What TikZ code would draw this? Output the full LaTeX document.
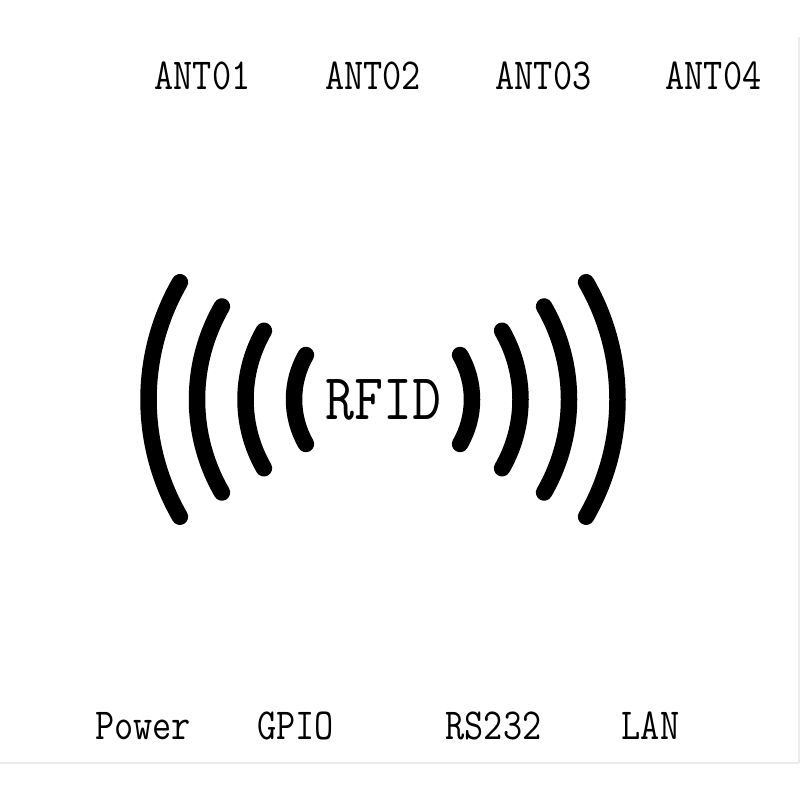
\documentclass[tikz,border=0pt]{standalone}
\usepackage{tikz}
\tikzset{
  small label/.style={font=\ttfamily\fontsize{12.6}{14}\selectfont,anchor=base,inner sep=0pt,transform shape,xscale=0.84},
  big label/.style={font=\ttfamily\fontsize{18.6}{20}\selectfont,anchor=base,inner sep=0pt,transform shape,xscale=0.86},
  wave/.style={line width=0.165cm,line cap=round},
  edge line/.style={color=black!8,line width=0.02cm}
}
\begin{document}
\begin{tikzpicture}

\useasboundingbox (0,0) rectangle (8,8) ;

\coordinate (corner) at (7.985,0.37) ;
\draw [edge line] (7.985,7.63) -- (corner) ;
\draw [edge line] (0,0.37) -- (corner) ;

\node [small label] (ant1) at (2.025,7.10) {ANT01};
\node [small label] (ant2) at (3.73,7.10) {ANT02};
\node [small label] (ant3) at (5.435,7.10) {ANT03};
\node [small label] (ant4) at (7.135,7.10) {ANT04};

\coordinate (hub) at (3.83,4.005) ;
\node [big label] (rfid) at (3.835,3.80) {RFID};

\foreach \r in {0.89,1.375,1.86,2.345} {
  \draw [wave] ([shift={(150:\r)}]hub) arc [start angle=150,end angle=210,radius=\r] ;
  \draw [wave] ([shift={(-30:\r)}]hub) arc [start angle=-30,end angle=30,radius=\r] ;
}

\node [small label] (power) at (1.43,0.60) {Power};
\node [small label] (gpio) at (2.955,0.60) {GPIO};
\node [small label] (rs232) at (4.935,0.60) {RS232};
\node [small label] (lan) at (6.505,0.60) {LAN};

\end{tikzpicture}
\end{document}
